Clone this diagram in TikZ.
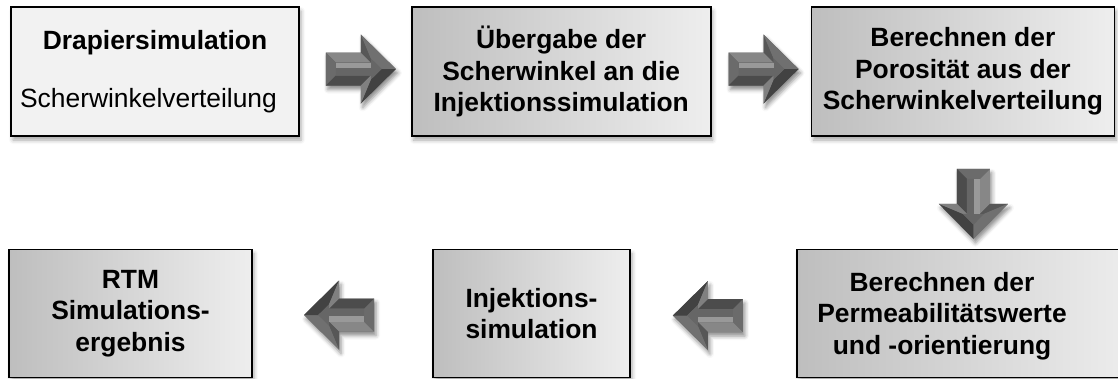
\documentclass[tikz,border=0pt]{standalone}
\usepackage{fontspec}
\setmainfont{Liberation Sans}
\usepackage{tikz}
\usetikzlibrary{positioning,calc,shadows.blur}
\definecolor{boxpale}{HTML}{F2F2F2}
\definecolor{boxdark}{HTML}{BEBEBE}
\definecolor{boxlight}{HTML}{EEEEEE}
\tikzset{
  flowbox/.style={draw=black, line width=1.7pt, inner sep=0pt, align=center,
    font=\fontsize{26.4}{31.5}\selectfont\bfseries,
    blur shadow={shadow xshift=2pt, shadow yshift=-4pt, shadow blur radius=4pt, shadow opacity=35}},
  flowshade/.style={flowbox, shading=axis, left color=boxdark, right color=boxlight},
  flowtext/.style={inner sep=0pt, align=center, font=\fontsize{26.4}{31.5}\selectfont\bfseries},
  pics/bevelarrow/.style={code={
    \fill[black!58, blur shadow={shadow xshift=2pt, shadow yshift=-4pt, shadow blur radius=4pt, shadow opacity=45}]
      (-35,-16.5) -- (0,-16.5) -- (0,-34.5) -- (35,0) -- (0,34.5) -- (0,16.5) -- (-35,16.5) -- cycle;
    \fill[black!47] (-35,-16.5) -- (0,-16.5) -- (10,-6.5) -- (-25,-6.5) -- cycle;
    \fill[black!58] (-35,-16.5) -- (-25,-6.5) -- (-25,6.5) -- (-35,16.5) -- cycle;
    \fill[black!70] (-35,16.5) -- (-25,6.5) -- (10,6.5) -- (0,16.5) -- cycle;
    \fill[black!66] (0,-16.5) -- (0,-34.5) -- (10,-10.6) -- (10,-6.5) -- cycle;
    \fill[black!56] (0,-34.5) -- (35,0) -- (20.8,0) -- (10,-10.6) -- cycle;
    \fill[black!74] (35,0) -- (0,34.5) -- (10,10.6) -- (20.8,0) -- cycle;
    \fill[black!50] (0,34.5) -- (0,16.5) -- (10,6.5) -- (10,10.6) -- cycle;
    \fill[black!60] (-25,-6.5) -- (10,-6.5) -- (10,-10.6) -- (20.8,0) -- (10,10.6) -- (10,6.5) -- (-25,6.5) -- cycle;
    \fill[black!40] (-25,-6.5) -- (10,-6.5) -- (10,-1) -- (-25,-1) -- cycle;
  }}
}
\begin{document}
\begin{tikzpicture}[x=1pt, y=-1pt]
\useasboundingbox (0,0) rectangle (1118,378);
\clip (0,0) rectangle (1118,378);

\node[flowbox, fill=boxpale, minimum width=288pt, minimum height=129pt] (drape) at (155,71.5)
  {Drapiersimulation\\[27pt]\mdseries Scherwinkelverteilung\hspace*{13pt}};
\node[flowshade, minimum width=299pt, minimum height=129pt, right=111pt of drape] (handover)
  {Übergabe der\\Scherwinkel an die\\Injektionssimulation};
\node[flowshade, minimum width=303pt, minimum height=129pt, right=99pt of handover] (porosity)
  {Berechnen der\\Porosität aus der\\Scherwinkelverteilung};

\node[flowshade, minimum width=340pt, minimum height=128pt, anchor=west] (perm) at (796,313.5) {};
\node[flowtext] (permtext) at (942,316) {Berechnen der\\Permeabilitätswerte\\und -orientierung};
\node[flowshade, minimum width=197pt, minimum height=128pt] (injection) at (531.5,313.5)
  {Injektions-\\simulation};
\node[flowshade, minimum width=243pt, minimum height=128pt] (result) at (130.5,313.5)
  {RTM\\Simulations-\\ergebnis};

\pic at ($(drape.east)!0.5!(handover.west)+(5.5,-2.5)$) {bevelarrow};
\pic at ($(handover.east)!0.5!(porosity.west)+(2.5,-2.5)$) {bevelarrow};
\pic[rotate=-90] at ($(porosity.south)+(10.5,67)$) {bevelarrow};
\pic[rotate=180] at ($(injection.east)!0.5!(perm.west)+(-5.5,2)$) {bevelarrow};
\pic[rotate=180] at ($(result.east)!0.5!(injection.west)+(-3.5,1.5)$) {bevelarrow};
\end{tikzpicture}
\end{document}
